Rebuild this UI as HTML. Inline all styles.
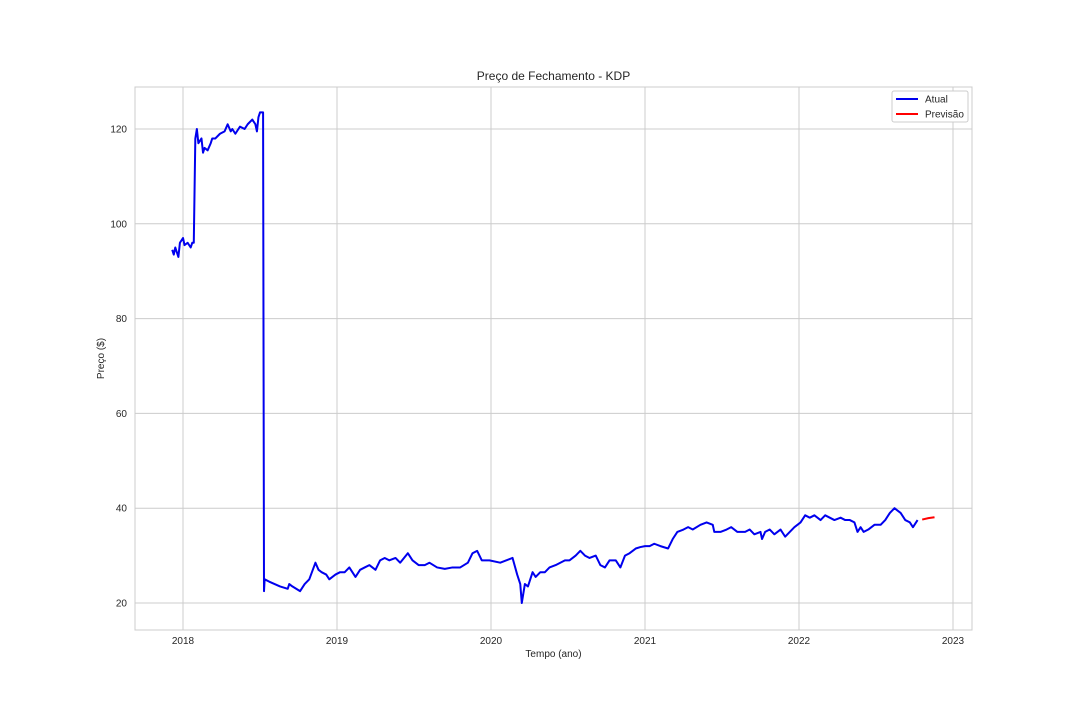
<!DOCTYPE html>
<html><head><meta charset="utf-8"><style>
body{margin:0;background:#fff;font-family:"Liberation Sans",sans-serif}
svg text{font-family:"Liberation Sans",sans-serif;fill:#262626}
</style></head><body>
<svg id="c" width="1080" height="720"></svg>
<script>
const years=[2017.93,2017.94,2017.95,2017.97,2017.98,2018.00,2018.01,2018.03,2018.05,2018.06,2018.07,2018.08,2018.09,2018.10,2018.12,2018.13,2018.14,2018.16,2018.18,2018.19,2018.21,2018.24,2018.27,2018.29,2018.31,2018.32,2018.34,2018.37,2018.40,2018.42,2018.45,2018.47,2018.48,2018.49,2018.50,2018.52,2018.526,2018.53,2018.56,2018.63,2018.68,2018.69,2018.71,2018.76,2018.79,2018.82,2018.86,2018.88,2018.90,2018.93,2018.95,2018.99,2019.02,2019.05,2019.08,2019.12,2019.15,2019.18,2019.21,2019.25,2019.28,2019.31,2019.34,2019.38,2019.41,2019.46,2019.49,2019.53,2019.57,2019.60,2019.65,2019.70,2019.75,2019.80,2019.85,2019.88,2019.91,2019.94,2019.99,2020.06,2020.10,2020.14,2020.17,2020.19,2020.20,2020.22,2020.24,2020.27,2020.29,2020.32,2020.35,2020.38,2020.42,2020.45,2020.48,2020.51,2020.55,2020.58,2020.61,2020.64,2020.68,2020.71,2020.74,2020.77,2020.81,2020.84,2020.87,2020.90,2020.94,2020.97,2021.00,2021.03,2021.06,2021.10,2021.15,2021.18,2021.21,2021.25,2021.28,2021.31,2021.36,2021.40,2021.44,2021.45,2021.49,2021.53,2021.56,2021.60,2021.65,2021.68,2021.71,2021.75,2021.76,2021.78,2021.81,2021.84,2021.88,2021.91,2021.94,2021.97,2022.01,2022.04,2022.07,2022.10,2022.14,2022.17,2022.20,2022.23,2022.27,2022.30,2022.33,2022.36,2022.38,2022.40,2022.42,2022.45,2022.49,2022.53,2022.56,2022.59,2022.62,2022.66,2022.69,2022.72,2022.74,2022.75,2022.77];
const actual=[94.5,93.5,95,93,96,97,95.5,96,95,96,96,118,120,117,118,115,116,115.5,117,118,118,119,119.5,121,119.5,120,119,120.5,120,121,122,121,119.5,122.5,123.5,123.5,22.5,25,24.5,23.5,23,24,23.5,22.5,24,25,28.5,27,26.5,26,25,26,26.5,26.5,27.5,25.5,27,27.5,28,27,29,29.5,29,29.5,28.5,30.5,29,28,28,28.5,27.5,27.2,27.5,27.5,28.5,30.5,31,29,29,28.5,29,29.5,26,24,20,24,23.5,26.5,25.5,26.5,26.5,27.5,28,28.5,29,29,30,31,30,29.5,30,28,27.5,29,29,27.5,30,30.5,31.5,31.8,32,32,32.5,32,31.5,33.5,35,35.5,36,35.5,36.5,37,36.5,35,35,35.5,36,35,35,35.5,34.5,35,33.5,35,35.5,34.5,35.5,34,35,36,37,38.5,38,38.5,37.5,38.5,38,37.5,38,37.5,37.5,37,35,36,35,35.5,36.5,36.5,37.5,39,40,39,37.5,37,36,36.5,37.5];
const fcYears=[2022.80,2022.84,2022.88];
const forecast=[37.6,37.9,38.1];
const xTicks=[2018,2019,2020,2021,2022,2023];
const yTicks=[20,40,60,80,100,120];
const L=135,R=972,T=87,B=630;
const xs=y=>183+(y-2018)*154;
const ys=p=>603-(p-20)*4.74;
const svg=document.getElementById('c');const NS='http://www.w3.org/2000/svg';
function mk(t,a,txt){const e=document.createElementNS(NS,t);for(const k in a)e.setAttribute(k,a[k]);if(txt!==undefined)e.textContent=txt;svg.appendChild(e);return e;}
xTicks.forEach(t=>{const x=xs(t);
const g=mk('line',{x1:x,x2:x,y1:T,y2:B,stroke:'#cccccc','stroke-width':1});

const l=mk('text',{x:x,y:B+14,'font-size':10,'text-anchor':'middle'},t);
});
yTicks.forEach(t=>{const y=ys(t);
const g=mk('line',{x1:L,x2:R,y1:y,y2:y,stroke:'#cccccc','stroke-width':1});

const l=mk('text',{x:L-8,y:y+3.5,'font-size':10,'text-anchor':'end'},t);
});
const fr=mk('rect',{x:L,y:T,width:R-L,height:B-T,fill:'none',stroke:'#cccccc','stroke-width':1});

const pa=mk('polyline',{points:years.map((y,i)=>xs(y)+','+ys(actual[i])).join(' '),fill:'none',stroke:'#0000ee','stroke-width':2,'stroke-linejoin':'round'});

const pf=mk('polyline',{points:fcYears.map((y,i)=>xs(y)+','+ys(forecast[i])).join(' '),fill:'none',stroke:'#ff0000','stroke-width':2});

const ti=mk('text',{x:(L+R)/2,y:80,'font-size':12,'text-anchor':'middle'},'Preço de Fechamento - KDP');

const xt=mk('text',{x:(L+R)/2,y:657,'font-size':10,'text-anchor':'middle'},'Tempo (ano)');

const yt=mk('text',{x:104,y:(T+B)/2,'font-size':10,'text-anchor':'middle',transform:'rotate(-90 104 '+((T+B)/2)+')'},'Preço ($)');

const lg=mk('rect',{x:892,y:91,width:76,height:31,fill:'#fff',stroke:'#cccccc',rx:2});

const l1=mk('line',{x1:896,x2:918,y1:99,y2:99,stroke:'#0000ee','stroke-width':2});

const t1=mk('text',{x:925,y:102.5,'font-size':10},'Atual');

const l2=mk('line',{x1:896,x2:918,y1:114,y2:114,stroke:'#ff0000','stroke-width':2});

const t2=mk('text',{x:925,y:117.5,'font-size':10},'Previsão');

</script>
</body></html>
